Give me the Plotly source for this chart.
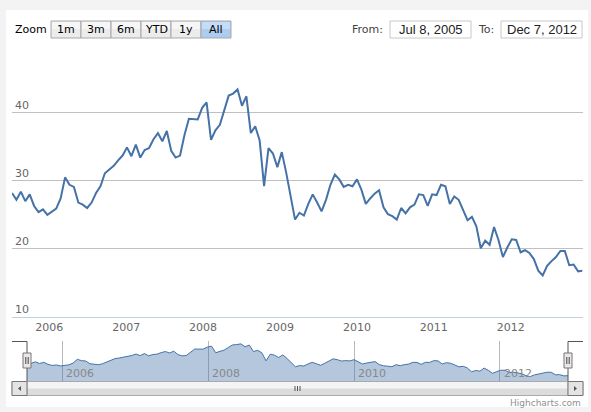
import plotly.graph_objects as go
import pandas as pd

# ---------------- data ----------------
start_date = "2005-07-08"
step = "21D"
values = [
    28.2, 27.2, 28.4, 27.0, 28.0, 26.3, 25.4, 25.8, 25.0, 25.5,
    25.9, 27.4, 30.5, 29.4, 29.1, 26.8, 26.5, 26.0, 26.8, 28.2,
    29.2, 31.1, 31.6, 32.2, 33.0, 33.7, 34.9, 33.6, 35.3, 33.4,
    34.5, 34.8, 36.1, 37.0, 35.8, 37.3, 34.4, 33.4, 33.7, 36.7,
    39.1, 39.0, 39.0, 40.7, 41.5, 36.0, 37.4, 38.2, 40.4, 42.5,
    42.8, 43.4, 41.0, 42.4, 37.0, 38.0, 35.9, 29.2, 34.8, 34.0,
    32.0, 34.2, 31.2, 27.5, 24.3, 25.3, 24.9, 26.6, 28.0, 26.8,
    25.5, 27.2, 29.4, 30.9, 30.2, 29.1, 29.4, 29.2, 30.2, 28.7,
    26.6, 27.4, 28.1, 28.6, 26.1, 25.1, 24.8, 24.3, 26.0, 25.2,
    26.1, 26.5, 28.0, 27.9, 26.3, 28.0, 27.9, 29.4, 29.2, 26.6,
    27.7, 27.2, 25.8, 24.2, 24.7, 23.3, 20.1, 21.2, 20.6, 23.2,
    21.3, 18.8, 20.2, 21.4, 21.3, 19.5, 19.8, 19.4, 18.5, 16.8,
    16.1, 17.5, 18.2, 18.8, 19.7, 19.7, 17.6, 17.7, 16.7, 16.8,
]
dates = pd.date_range(start_date, periods=len(values), freq=step)

year_ticks = [2006, 2007, 2008, 2009, 2010, 2011, 2012]
nav_year_ticks = [2006, 2008, 2010, 2012]
y_ticks = [10, 20, 30, 40, 50]
y_tick_text = ["10", "20", "30", "40", ""]
zoom_buttons = ["1m", "3m", "6m", "YTD", "1y", "All"]
selected_button = "All"
from_text = "Jul 8, 2005"
to_text = "Dec 7, 2012"

# ---------------- helpers ----------------
W, H = 591, 412
def px(x):
    return x / W
def py(y):
    return 1 - y / H

LINE = "#4572A7"
FONT = "DejaVu Sans"

fig = go.Figure()
fig.add_trace(go.Scatter(x=dates, y=values, mode="lines",
                         line=dict(color=LINE, width=2), xaxis="x", yaxis="y",
                         hoverinfo="skip"))
fig.add_trace(go.Scatter(x=dates, y=values, mode="lines", fill="tozeroy",
                         fillcolor="rgba(69,114,167,0.4)",
                         line=dict(color=LINE, width=1), xaxis="x2", yaxis="y2",
                         hoverinfo="skip"))

shapes = []
annotations = []

# white panel
shapes.append(dict(type="rect", xref="paper", yref="paper", layer="below",
                   x0=px(6), x1=px(588), y0=py(407), y1=py(10),
                   fillcolor="white", line=dict(width=0)))

# range selector
annotations.append(dict(text="Zoom", x=px(13), y=py(30), xref="paper", yref="paper",
                        xanchor="left", yanchor="middle", showarrow=False,
                        font=dict(family=FONT, size=11, color="#000")))
for i, lab in enumerate(zoom_buttons):
    x0 = 51 + 30 * i
    sel = lab == selected_button
    shapes.append(dict(type="rect", xref="paper", yref="paper",
                       x0=px(x0), x1=px(x0 + 30), y0=py(38), y1=py(21),
                       fillcolor="#acccf2" if sel else "#ececec",
                       line=dict(color="#a8a8a8", width=1)))
    shapes.append(dict(type="rect", xref="paper", yref="paper",
                       x0=px(x0 + 1), x1=px(x0 + 29), y0=py(29), y1=py(22),
                       fillcolor="#c4dcf7" if sel else "#f6f6f6",
                       line=dict(width=0)))
    annotations.append(dict(text=lab, x=px(x0 + 15), y=py(30), xref="paper", yref="paper",
                            xanchor="center", yanchor="middle", showarrow=False,
                            font=dict(family=FONT, size=11, color="#000")))

annotations.append(dict(text="From:", x=px(385), y=py(30), xref="paper", yref="paper",
                        xanchor="right", yanchor="middle", showarrow=False,
                        font=dict(family=FONT, size=11, color="#444")))
annotations.append(dict(text="To:", x=px(496), y=py(30), xref="paper", yref="paper",
                        xanchor="right", yanchor="middle", showarrow=False,
                        font=dict(family=FONT, size=11, color="#444")))
for (x0, x1, txt) in [(390, 471, from_text), (501, 582, to_text)]:
    shapes.append(dict(type="rect", xref="paper", yref="paper",
                       x0=px(x0), x1=px(x1), y0=py(38), y1=py(21),
                       fillcolor="white", line=dict(color="#c8c8c8", width=1)))
    annotations.append(dict(text=txt, x=px((x0 + x1) / 2), y=py(30), xref="paper",
                            yref="paper", xanchor="center", yanchor="middle",
                            showarrow=False,
                            font=dict(family="Liberation Sans", size=13, color="#222")))

# navigator year labels
for yr in nav_year_ticks:
    annotations.append(dict(text=str(yr), x=f"{yr}-01-01", y=py(373), xref="x2",
                            yref="paper", xanchor="left", yanchor="middle", xshift=2,
                            showarrow=False,
                            font=dict(family=FONT, size=11, color="#888")))

# scrollbar
sb_top, sb_bot = 381.5, 395.5
shapes.append(dict(type="rect", xref="paper", yref="paper",
                   x0=px(12), x1=px(583), y0=py(sb_bot), y1=py(sb_top),
                   fillcolor="#eeeeee", line=dict(color="#bbbbbb", width=1)))
shapes.append(dict(type="rect", xref="paper", yref="paper",
                   x0=px(27), x1=px(568), y0=py(sb_bot), y1=py(sb_top),
                   fillcolor="#dcdcdc", line=dict(width=0)))
shapes.append(dict(type="rect", xref="paper", yref="paper",
                   x0=px(27), x1=px(568), y0=py(388.5), y1=py(sb_top),
                   fillcolor="#f4f4f4", line=dict(width=0)))
shapes.append(dict(type="rect", xref="paper", yref="paper",
                   x0=px(27), x1=px(568), y0=py(sb_bot), y1=py(sb_top),
                   fillcolor="rgba(0,0,0,0)", line=dict(color="#aaaaaa", width=1)))
for gx in (295, 297.5, 300):
    shapes.append(dict(type="line", xref="paper", yref="paper",
                       x0=px(gx), x1=px(gx), y0=py(391), y1=py(386),
                       line=dict(color="#555", width=1)))
for (bx0, bx1, d) in [(12, 27, -1), (568, 583, 1)]:
    shapes.append(dict(type="rect", xref="paper", yref="paper",
                       x0=px(bx0), x1=px(bx1), y0=py(sb_bot), y1=py(sb_top),
                       fillcolor="#e4e4e4", line=dict(color="#777", width=1)))
    cx, cy = (bx0 + bx1) / 2, (sb_top + sb_bot) / 2
    tip = cx + 1.5 * d
    back = cx - 1.5 * d
    path = (f"M {px(back)} {py(cy - 2.5)} L {px(tip)} {py(cy)} "
            f"L {px(back)} {py(cy + 2.5)} Z")
    shapes.append(dict(type="path", xref="paper", yref="paper", path=path,
                       fillcolor="#555", line=dict(width=0)))

# navigator outline
for path_pts in ([(12, 341.5), (27, 341.5), (27, 381)],
                 [(568, 381), (568, 341.5), (583, 341.5)]):
    path = "M " + " L ".join(f"{px(a)} {py(b)}" for a, b in path_pts)
    shapes.append(dict(type="path", xref="paper", yref="paper", path=path,
                       line=dict(color="#555", width=1)))

# navigator handles
for hx in (27, 568):
    shapes.append(dict(type="rect", xref="paper", yref="paper",
                       x0=px(hx - 4), x1=px(hx + 4), y0=py(368), y1=py(353),
                       fillcolor="#ebe7e8", line=dict(color="#777", width=1)))
    for lx in (hx - 1.2, hx + 1.2):
        shapes.append(dict(type="line", xref="paper", yref="paper",
                           x0=px(lx), x1=px(lx), y0=py(364), y1=py(357),
                           line=dict(color="#444", width=1)))

# credits
annotations.append(dict(text="Highcharts.com", x=px(583), y=py(403), xref="paper",
                        yref="paper", xanchor="right", yanchor="middle",
                        showarrow=False, font=dict(family=FONT, size=9, color="#909090")))

fig.update_layout(
    width=W, height=H, autosize=False,
    margin=dict(l=0, r=0, t=0, b=0),
    paper_bgcolor="#f3f3f3", plot_bgcolor="rgba(0,0,0,0)",
    showlegend=False,
    font=dict(family=FONT, size=11, color="#666"),
    xaxis=dict(domain=[px(12), px(582.5)],
               range=[dates[0], dates[-1]],
               tickvals=[f"{y}-01-01" for y in year_ticks],
               ticktext=[str(y) for y in year_ticks],
               showgrid=False, zeroline=False,
               showline=True, linecolor="#C0D0E0", linewidth=1,
               ticks="", tickfont=dict(size=11, color="#666"), fixedrange=True),
    yaxis=dict(domain=[py(317), py(44.5)], range=[10, 50],
               tickvals=y_ticks, ticktext=y_tick_text,
               showgrid=True, gridcolor="#C0C0C0", gridwidth=1, zeroline=False,
               ticklabelposition="inside top", tickfont=dict(size=11, color="#666"),
               fixedrange=True),
    xaxis2=dict(domain=[px(27), px(568)], anchor="y2",
                range=[dates[0], dates[-1]],
                tickvals=[f"{y}-01-01" for y in nav_year_ticks],
                showticklabels=False, showgrid=True, gridcolor="#b8b8b8",
                zeroline=False, showline=False, fixedrange=True),
    yaxis2=dict(domain=[py(381), py(341)], range=[12.4, 45.8], anchor="x2",
                visible=False, fixedrange=True),
    shapes=shapes,
    annotations=annotations,
)

fig.write_html("out.html", config={"displayModeBar": False})
